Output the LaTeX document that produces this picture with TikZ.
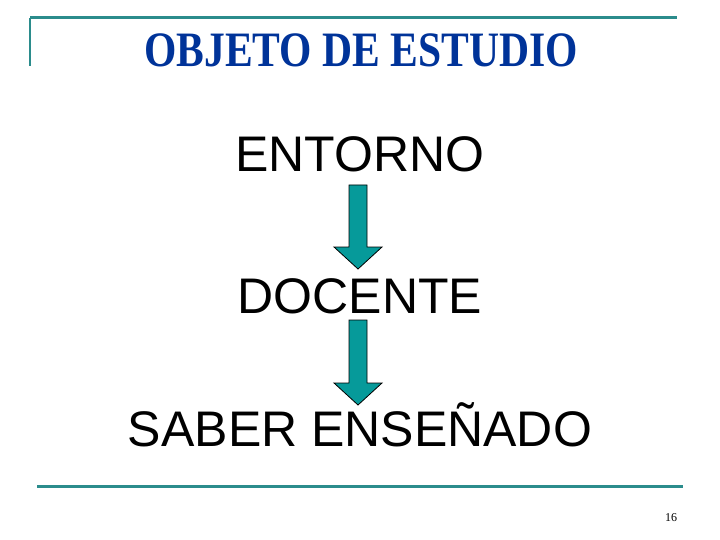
\documentclass[tikz,border=0pt]{standalone}
\usepackage{fontspec}
\setmainfont{Liberation Serif}
\setsansfont{Liberation Sans}
\usetikzlibrary{calc}

\definecolor{azul}{HTML}{003399}
\definecolor{verde}{HTML}{2B8C8C}
\definecolor{relleno}{HTML}{069A9A}

\newcommand{\flecha}[2]{%
    \draw[flecha] let \p1=(#1), \p2=(#2) in
    (\x1-9pt,\y1) -- (\x1+9pt,\y1) -- (\x1+9pt,\y2+22pt) -- (\x1+24pt,\y2+22pt)
    -- (\x1,\y2) -- (\x1-24pt,\y2+22pt) -- (\x1-9pt,\y2+22pt) -- cycle;}

\begin{document}
\begin{tikzpicture}[
      x=1pt, y=-1pt,
      palabra/.style={anchor=base, inner sep=0pt, font=\sffamily\fontsize{50}{52}\selectfont},
      raya/.style={draw=verde, line width=3pt},
      flecha/.style={fill=relleno, draw=black, line width=0.8pt, line join=miter}
    ]

    \useasboundingbox (0,0) rectangle (720,540);

    % marco
    \draw[raya] (30,18) -- (677,18);
    \draw[verde, line width=2pt] (30,18) -- (30,66);
    \draw[raya] (37,486) -- (683,486);

    \node[anchor=base, inner sep=0pt, text=azul, xscale=0.84,
        font=\bfseries\fontsize{49.5}{50}\selectfont] (titulo) at (361,67) {OBJETO DE ESTUDIO};

    \node[palabra] (entorno) at (360,172) {ENTORNO};
    \node[palabra] (docente) at (360,313) {DOCENTE};
    \node[palabra] (saber) at (360,446) {SABER ENSEÑADO};

    \node[anchor=base, inner sep=0pt, font=\fontsize{12}{14}\selectfont] (pagina) at (671,521) {16};

    % flechas
    \coordinate (a1) at (358,185);
    \coordinate (b1) at (358,269);
    \coordinate (a2) at (358,320);
    \coordinate (b2) at (358,405);
    \flecha{a1}{b1}
    \flecha{a2}{b2}

  \end{tikzpicture}
\end{document}
